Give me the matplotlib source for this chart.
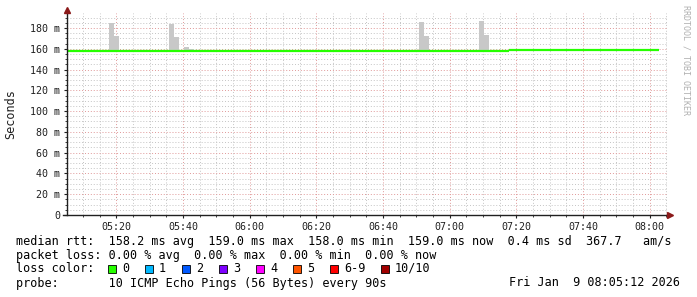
import matplotlib
matplotlib.use("Agg")
import matplotlib.pyplot as plt
from matplotlib.patches import Rectangle

# time in minutes after 05:00, values in ms
t_start = 5.2
t_end = 185.2
med_t = [5.2, 137.8, 182.8]
med_v = [158.0, 159.0]

smoke_t = [17.8, 19.3, 35.8, 37.3, 40.3, 41.8, 110.8, 112.3, 128.8, 130.3]
smoke_top = [185.0, 172.3, 183.8, 171.3, 161.7, 160.0, 185.8, 172.3, 186.7, 173.3]

tick_pos = [20, 40, 60, 80, 100, 120, 140, 160, 180]
tick_lab = ["05:20", "05:40", "06:00", "06:20", "06:40", "07:00", "07:20", "07:40", "08:00"]

loss_lab = ["0", "1", "2", "3", "4", "5", "6-9", "10/10"]
loss_col = ["#26ff00", "#00b8ff", "#0059ff", "#7e00ff", "#ff00ff", "#ff5500", "#ff0000", "#a10000"]

W, H = 697, 297
mono = "DejaVu Sans Mono"

fig = plt.figure(figsize=(W / 100, H / 100), dpi=100)
fig.patch.set_facecolor("white")
ax = fig.add_axes([67 / W, 82 / H, 600 / W, 202 / H])

ax.set_xlim(t_start, t_end)
ax.set_ylim(0, 194.4)

# grid: minor grey dotted, major reddish dotted
minor_c = "#c4c4c4"
major_c = "#e09898"
for m in range(10, 186, 5):
    if m % 20 != 0:
        ax.axvline(m, color=minor_c, lw=0.7, ls=(0, (1, 2)), zorder=0)
for v in range(5, 195, 5):
    if v % 20 != 0:
        ax.axhline(v, color=minor_c, lw=0.7, ls=(0, (1, 2)), zorder=0)
for m in tick_pos:
    ax.axvline(m, color=major_c, lw=0.7, ls=(0, (1, 2)), zorder=0)
for v in range(20, 195, 20):
    ax.axhline(v, color=major_c, lw=0.7, ls=(0, (1, 2)), zorder=0)

# smoke
for i in range(len(smoke_t)):
    k = 0 if smoke_t[i] < med_t[1] else 1
    ax.bar(smoke_t[i], smoke_top[i] - med_v[k], bottom=med_v[k], width=1.5,
           align="edge", color="#c8c8c8", lw=0, zorder=1)

# median
for i in range(len(med_v)):
    ax.plot([med_t[i], med_t[i + 1]], [med_v[i], med_v[i]], color="#26ff00",
            lw=1.6, solid_capstyle="butt", zorder=2)

for s in ax.spines.values():
    s.set_visible(False)

# axes with arrows
ax.plot([t_start - 1.2, t_end + 0.6], [0, 0], color="#202020", lw=1, clip_on=False, zorder=3)
ax.plot([t_start, t_start], [0, 196], color="#202020", lw=1, clip_on=False, zorder=3)
ax.plot([t_end + 0.8], [0], marker=">", color="#8b1a1a", ms=4, clip_on=False, zorder=4)
ax.plot([t_start], [197.5], marker="^", color="#8b1a1a", ms=4, clip_on=False, zorder=4)

ax.set_xticks(tick_pos)
ax.set_xticklabels(tick_lab)
ax.set_xticks(list(range(10, 186, 5)), minor=True)
ax.set_yticks(list(range(0, 181, 20)))
ax.set_yticklabels(["0"] + [f"{v} m" for v in range(20, 181, 20)])
ax.set_yticks(list(range(5, 195, 5)), minor=True)
ax.tick_params(axis="both", which="major", labelsize=7.2, length=2, width=0.8,
               color="#202020", labelcolor="#202020", pad=3)
ax.tick_params(axis="both", which="minor", length=1.5, width=0.6, color="#202020")
for lab in ax.get_xticklabels() + ax.get_yticklabels():
    lab.set_fontfamily(mono)
ax.set_ylabel("Seconds", fontsize=8.5, fontfamily=mono, color="#202020", labelpad=9)

fig.text(686 / W, 1 - 5 / H, "RRDTOOL / TOBI OETIKER", rotation=270, fontsize=6,
         fontfamily=mono, color="#b0b0b0", ha="center", va="top")

fs = 8.5
tx = 16 / W
lines = [
    "median rtt:  158.2 ms avg  159.0 ms max  158.0 ms min  159.0 ms now  0.4 ms sd  367.7   am/s",
    "packet loss: 0.00 % avg  0.00 % max  0.00 % min  0.00 % now",
    "loss color:",
    "probe:       10 ICMP Echo Pings (56 Bytes) every 90s",
]
ys = [241, 255, 268, 283]
for s, y in zip(lines, ys):
    fig.text(tx, 1 - y / H, s, fontsize=fs, fontfamily=mono, color="black", va="center")
fig.text(680 / W, 1 - 283 / H, "Fri Jan  9 08:05:12 2026", fontsize=fs,
         fontfamily=mono, color="black", va="center", ha="right")

sw_x = [108, 145, 182, 219, 256, 293, 330, 381]
for x, lab, c in zip(sw_x, loss_lab, loss_col):
    fig.add_artist(Rectangle((x / W, 1 - 273 / H), 8 / W, 8 / H, transform=fig.transFigure,
                             facecolor=c, edgecolor="black", lw=0.6))
    fig.text((x + 14) / W, 1 - 268 / H, lab, fontsize=fs, fontfamily=mono,
             color="black", va="center")

fig.savefig("out.png", dpi=100, facecolor="white")
